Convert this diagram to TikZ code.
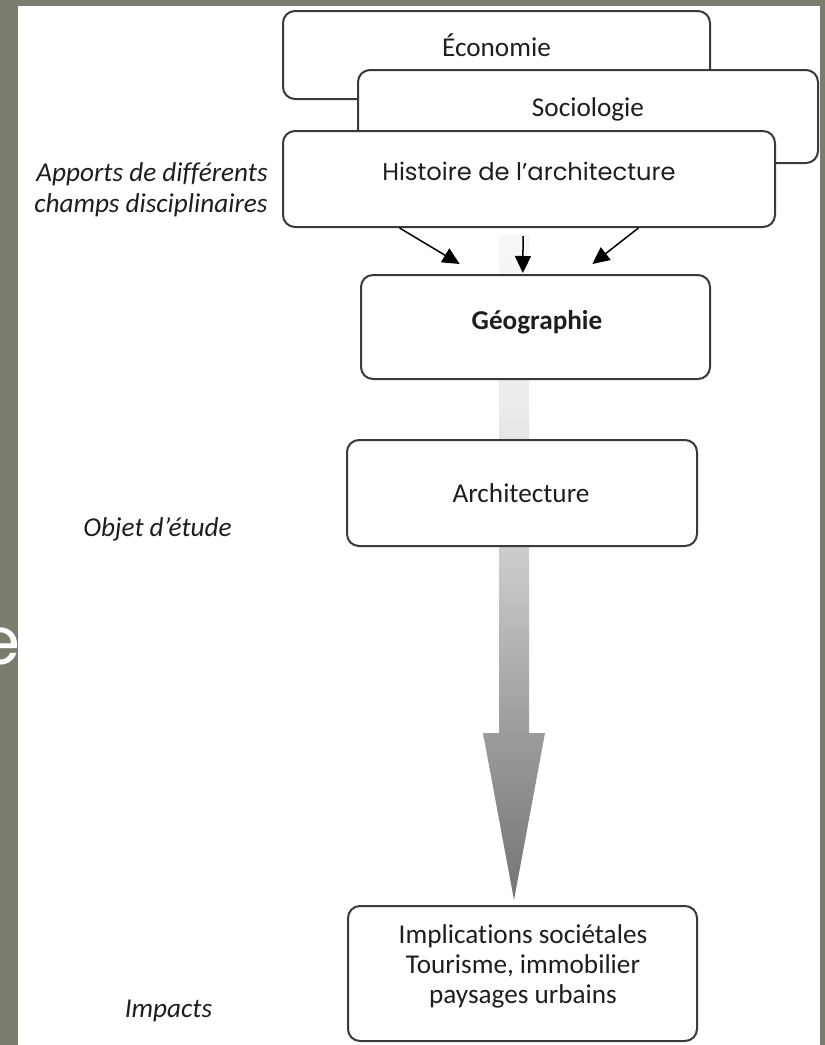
\documentclass[tikz,border=0pt]{standalone}
\usepackage{fontspec}
\setmainfont{Carlito}[Ligatures={NoCommon,NoContextual}]
\newfontfamily\popp{Poppins}
\usetikzlibrary{arrows.meta,calc}
\definecolor{bgstone}{HTML}{7A7C6D}
\definecolor{boxline}{HTML}{3A3A3A}
\definecolor{txt}{HTML}{1E1E1E}
\definecolor{gA}{HTML}{747474}
\definecolor{gB}{HTML}{9C9C9C}
\definecolor{gC}{HTML}{CDCDCD}
\definecolor{gD}{HTML}{EBEBEB}
\definecolor{gE}{HTML}{F3F3F3}
\definecolor{gF}{HTML}{F7F7F7}
\pgfdeclareverticalshading{bigarrowshade}{100bp}{color(0bp)=(gA); color(25bp)=(gA); color(37.6bp)=(gB); color(51.3bp)=(gC); color(61.8bp)=(gD); color(70.1bp)=(gE); color(75bp)=(gF); color(100bp)=(gF)}
\tikzset{
  diagbox/.style={draw=boxline, fill=white, line width=1pt, rounded corners=6pt, inner sep=0pt},
  lbl/.style={text=txt, inner sep=0pt, font=\fontsize{13.6}{15.5}\selectfont},
  sidelbl/.style={text=txt, inner sep=0pt, font=\itshape\fontsize{13.6}{15.5}\selectfont},
  blkarrow/.style={draw=black, line width=0.75pt, -{Triangle[length=8.5pt,width=8pt]}}
}
\begin{document}
\begin{tikzpicture}[x=0.5pt,y=-0.5pt]
\useasboundingbox (0,0) rectangle (825,1045);
% background stone and slide letter
\fill[bgstone] (0,0) rectangle (825,1045);
\node[text=white, inner sep=0pt, font=\popp\fontsize{33}{36}\selectfont] (bgE) at (0,646) {e};
\fill[white] (18,6) rectangle (820,1045);
% gradient arrow
\shade[shading=bigarrowshade] (499,235) -- (529,235) -- (529,733) -- (545,733) -- (514,900) -- (483,733) -- (499,733) -- cycle;
% boxes
\node[diagbox, minimum width=213.5pt, minimum height=44pt] (eco) at (496.5,55) {};
\node[diagbox, minimum width=230pt, minimum height=46.5pt] (soc) at (588,116.5) {};
\node[diagbox, minimum width=246pt, minimum height=48pt] (hist) at (529,179) {};
\node[diagbox, minimum width=174.5pt, minimum height=52pt] (geo) at (535.5,327) {};
\node[diagbox, minimum width=175pt, minimum height=53pt] (arch) at (522,493) {};
\node[diagbox, minimum width=174.5pt, minimum height=67.5pt] (impl) at (522.5,973.5) {};
% texts in boxes
\node[lbl, anchor=mid] (ecoT) at (496.5,52) {Économie};
\node[lbl, anchor=mid] (socT) at (588,112) {Sociologie};
\node[lbl, anchor=mid, font=\popp\fontsize{12.1}{14}\selectfont] (histT) at (529,176) {Histoire de l’architecture};
\node[lbl, anchor=mid, font=\bfseries\fontsize{13.6}{15.5}\selectfont] (geoT) at (537,325) {Géographie};
\node[lbl, anchor=mid] (archT) at (521,498) {Architecture};
\node[lbl, align=center, font=\fontsize{13.6}{15}\selectfont] (implT) at (523,966) {Implications sociétales\\Tourisme, immobilier\\paysages urbains};
% side labels
\node[sidelbl, align=right, anchor=east] (apports) at (268,190) {Apports de différents\\champs disciplinaires};
\node[sidelbl, anchor=mid] (objet) at (157.5,532) {Objet d’étude};
\node[sidelbl, anchor=mid] (impacts) at (168.5,1013) {Impacts};
% black arrows
\coordinate (a1s) at ($(hist.south west)!0.238!(hist.south east)$);
\coordinate (a2s) at ($(hist.south west)!0.488!(hist.south east)+(0,8)$);
\coordinate (a3s) at ($(hist.south west)!0.7215!(hist.south east)$);
\coordinate (a1e) at ($(geo.north west)!0.284!(geo.north east)+(0,-10)$);
\coordinate (a2e) at ($(geo.north west)!0.464!(geo.north east)+(0,-1)$);
\coordinate (a3e) at ($(geo.north west)!0.662!(geo.north east)+(0,-10)$);
\draw[blkarrow] (a1s) -- (a1e);
\draw[blkarrow] (a2s) -- (a2e);
\draw[blkarrow] (a3s) -- (a3e);
\end{tikzpicture}
\end{document}
